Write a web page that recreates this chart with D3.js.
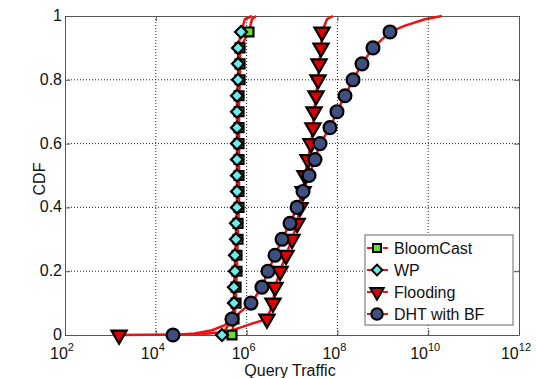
<!DOCTYPE html>
<html>
<head>
<meta charset="utf-8">
<script src="https://cdn.jsdelivr.net/npm/d3@7"></script>
<style>
  body { margin: 0; background: #fff; }
  text { font-family: "Liberation Sans", Arial, sans-serif; fill: #111; }
</style>
</head>
<body>
<div id="chart"></div>
<script>
'use strict';

// cdf levels shared by the markers
var levels = [0, 0.05, 0.1, 0.15, 0.2, 0.25, 0.3, 0.35, 0.4, 0.45, 0.5,
              0.55, 0.6, 0.65, 0.7, 0.75, 0.8, 0.85, 0.9, 0.95];

// query traffic at each level (markers)
var bloomMarks = [4.77e5, 5.27e5, 5.85e5, 5.85e5, 6.15e5, 6.15e5, 6.48e5, 6.48e5, 6.81e5, 6.81e5,
                  6.81e5, 6.81e5, 6.81e5, 6.81e5, 6.81e5, 6.81e5, 7.17e5, 7.17e5, 7.17e5, 1.13e6];
var wpMarks    = [2.87e5, 4.77e5, 5.27e5, 5.27e5, 5.55e5, 5.55e5, 5.85e5, 5.85e5, 6.15e5, 6.15e5,
                  6.15e5, 6.15e5, 6.15e5, 6.15e5, 6.15e5, 6.15e5, 6.48e5, 6.48e5, 6.48e5, 7.54e5];
var floodMarks = [1.55e3, 2.81e6, 3.81e6, 4.23e6, 5.45e6, 7.38e6, 1.0e7, 1.30e7, 1.50e7, 1.75e7,
                  1.93e7, 2.25e7, 2.62e7, 2.90e7, 3.06e7, 3.38e7, 3.74e7, 3.94e7, 4.36e7, 4.58e7];
var dhtMarks   = [2.39e4, 4.76e5, 1.25e6, 2.18e6, 2.96e6, 4.23e6, 6.03e6, 9.04e6, 1.29e7, 1.75e7,
                  2.37e7, 3.21e7, 4.14e7, 6.87e7, 9.79e7, 1.47e8, 2.21e8, 3.48e8, 6.08e8, 1.44e9];

// extra curve points (no marker) : [traffic, cdf]
var bloomExtra = [[1.31e6, 0.99], [1.61e6, 1]];
var wpExtra    = [[9.2e5, 0.99], [1.31e6, 1]];
var floodExtra = [[1.0e5, 0.002], [4.3e5, 0.012], [1.26e6, 0.035], [5.9e7, 0.99], [8.0e7, 1]];
var dhtExtra   = [[7.2e4, 0.005], [1.74e5, 0.015], [3.2e5, 0.03],
                  [3.1e9, 0.97], [8.5e9, 0.99], [2.0e10, 1]];

var xTicks = [1e2, 1e4, 1e6, 1e8, 1e10, 1e12];
var yTicks = [0, 0.2, 0.4, 0.6, 0.8, 1];

var W = 536, H = 378;
var m = { left: 65, right: 17, top: 16, bottom: 43 };

var svg = d3.select('#chart').append('svg')
  .attr('width', W).attr('height', H);

var x = d3.scaleLog().domain([1e2, 1e12]).range([m.left, W - m.right]);
var y = d3.scaleLinear().domain([0, 1]).range([H - m.bottom, m.top]);

// grid
var grid = svg.append('g')
  .attr('stroke', '#222').attr('stroke-width', 1).attr('stroke-dasharray', '1,2');
grid.selectAll('.gx').data(xTicks.slice(1, -1)).enter().append('line')
  .attr('x1', d => x(d)).attr('x2', d => x(d))
  .attr('y1', y(0)).attr('y2', y(1));
grid.selectAll('.gy').data(yTicks.slice(1, -1)).enter().append('line')
  .attr('x1', x(1e2)).attr('x2', x(1e12))
  .attr('y1', d => y(d)).attr('y2', d => y(d));

// axes with inward ticks
var axB = svg.append('g').attr('transform', 'translate(0,' + y(0) + ')')
  .call(d3.axisBottom(x).tickValues(xTicks).tickSizeInner(-5).tickSizeOuter(0).tickFormat(''));
var axT = svg.append('g').attr('transform', 'translate(0,' + y(1) + ')')
  .call(d3.axisTop(x).tickValues(xTicks).tickSizeInner(-5).tickSizeOuter(0).tickFormat(''));
var axL = svg.append('g').attr('transform', 'translate(' + x(1e2) + ',0)')
  .call(d3.axisLeft(y).tickValues(yTicks).tickSizeInner(-5).tickSizeOuter(0).tickFormat(''));
var axR = svg.append('g').attr('transform', 'translate(' + x(1e12) + ',0)')
  .call(d3.axisRight(y).tickValues(yTicks).tickSizeInner(-5).tickSizeOuter(0).tickFormat(''));
[axB, axT, axL, axR].forEach(function (g) {
  g.selectAll('path, line').attr('stroke', '#555');
});

// tick labels
svg.selectAll('.ylab').data(yTicks).enter().append('text')
  .attr('x', m.left - 3).attr('y', d => y(d) + 5)
  .attr('text-anchor', 'end').attr('font-size', 16)
  .text(d => d3.format('~g')(d));

var xl = svg.selectAll('.xlab').data(xTicks).enter().append('text')
  .attr('x', d => x(d) - 3).attr('y', 359)
  .attr('text-anchor', 'middle').attr('font-size', 16);
xl.append('tspan').text('10');
xl.append('tspan').attr('dy', -8).attr('font-size', 11)
  .text(d => Math.round(Math.log10(d)));

svg.append('text').attr('x', 290).attr('y', 376)
  .attr('text-anchor', 'middle').attr('font-size', 16).text('Query Traffic');
svg.append('text').attr('transform', 'translate(45,179) rotate(-90)')
  .attr('text-anchor', 'middle').attr('font-size', 16).text('CDF');

// series
var series = [
  { name: 'BloomCast',   marks: bloomMarks, extra: bloomExtra, shape: d3.symbolSquare,   size: 80,  fill: '#66dd33' },
  { name: 'WP',          marks: wpMarks,    extra: wpExtra,    shape: d3.symbolSquare,   size: 72,  fill: '#66eeee', rot: 45 },
  { name: 'Flooding',    marks: floodMarks, extra: floodExtra, shape: d3.symbolTriangle, size: 100, fill: '#dd0000', rot: 180 },
  { name: 'DHT with BF', marks: dhtMarks,   extra: dhtExtra,   shape: d3.symbolCircle,   size: 130, fill: '#3f5080' }
];

series.forEach(function (s) {
  s.pts = s.marks.map((v, i) => [v, levels[i]]);
  var all = s.pts.concat(s.extra).sort((a, b) => a[1] - b[1] || a[0] - b[0]);
  svg.append('path').datum(all)
    .attr('d', d3.line().x(d => x(d[0])).y(d => y(d[1])))
    .attr('fill', 'none').attr('stroke', '#ee1111').attr('stroke-width', 2.5)
    .attr('stroke-linejoin', 'round');
});

series.forEach(function (s) {
  svg.append('g').selectAll('path').data(s.pts).enter().append('path')
    .attr('d', d3.symbol().type(s.shape).size(s.size))
    .attr('transform', d => 'translate(' + x(d[0]) + ',' + y(d[1]) + ')' + (s.rot ? ' rotate(' + s.rot + ')' : ''))
    .attr('fill', s.fill).attr('stroke', '#000').attr('stroke-width', 2.2);
});

// legend
var lg = svg.append('g');
lg.append('rect').attr('x', 365).attr('y', 235).attr('width', 148).attr('height', 90)
  .attr('fill', '#fff').attr('stroke', '#666').attr('stroke-width', 1);
series.forEach(function (s, i) {
  var ly = 248 + i * 22;
  lg.append('line').attr('x1', 367).attr('x2', 388).attr('y1', ly).attr('y2', ly)
    .attr('stroke', '#ee1111').attr('stroke-width', 2).attr('stroke-dasharray', '5,3');
  lg.append('path').attr('d', d3.symbol().type(s.shape).size(s.size * 0.8))
    .attr('transform', 'translate(377,' + ly + ')' + (s.rot ? ' rotate(' + s.rot + ')' : ''))
    .attr('fill', s.fill).attr('stroke', '#000').attr('stroke-width', 2);
  lg.append('text').attr('x', 394).attr('y', ly + 6).attr('font-size', 16).text(s.name);
});
</script>
</body>
</html>
